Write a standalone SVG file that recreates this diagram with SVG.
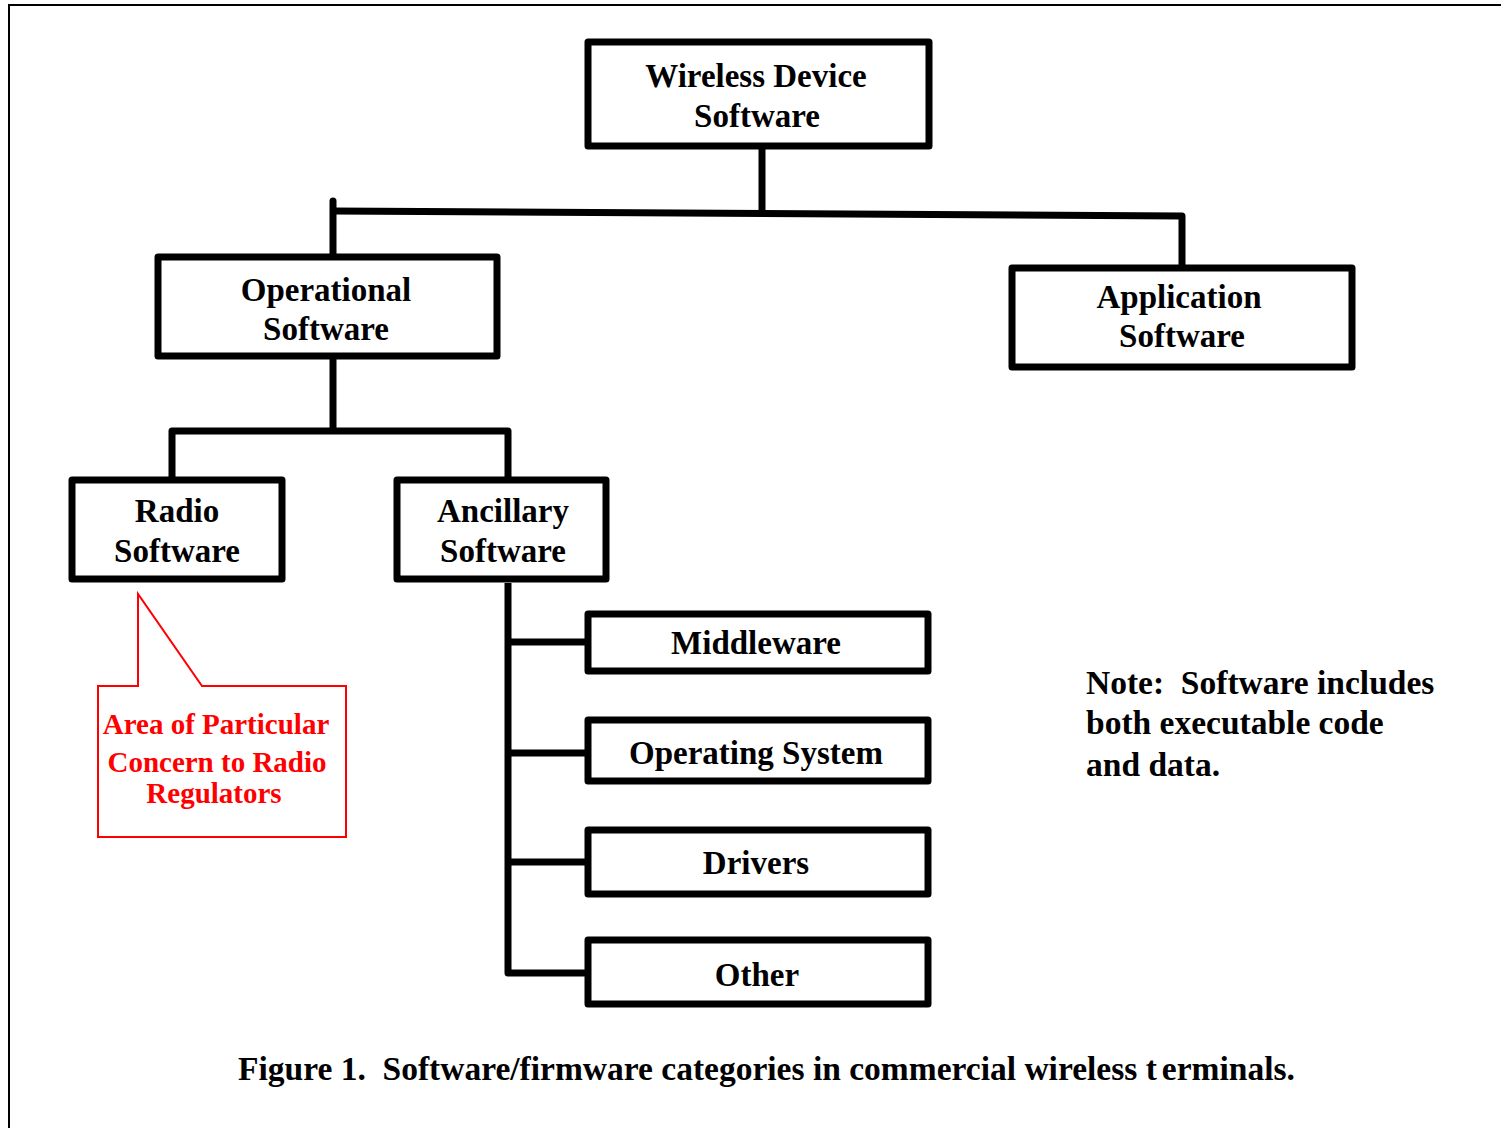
<svg xmlns="http://www.w3.org/2000/svg" width="1501" height="1128" viewBox="0 0 1501 1128">
  <style>
    .box { fill: #fff; stroke: #000; stroke-width: 7; stroke-linejoin: round; }
    .wire { fill: none; stroke: #000; stroke-width: 7; stroke-linejoin: round; }
    .label { font-family: "Liberation Serif", "Times New Roman", serif; font-weight: bold; font-size: 33px; fill: #000; text-anchor: middle; }
    .note { font-family: "Liberation Serif", "Times New Roman", serif; font-weight: bold; font-size: 33.5px; fill: #000; }
    .callout { fill: #fff; stroke: #f00; stroke-width: 2; }
    .red { font-family: "Liberation Serif", "Times New Roman", serif; font-weight: bold; font-size: 29px; fill: #f00; text-anchor: middle; }
  </style>
  <rect width="1501" height="1128" fill="#fff"/>
  <!-- page frame (top and left edges) -->
  <path d="M9 1128 V5 H1501" fill="none" stroke="#000" stroke-width="2"/>

  <g id="connectors">
    <path class="wire" d="M762 149 V213"/>
    <path class="wire" d="M333 255 V201" stroke-linecap="round"/>
    <path class="wire" d="M333 211 L1182 216 V266"/>
    <path class="wire" d="M333 358 V431"/>
    <path class="wire" d="M172 479 V431 H508 V479"/>
    <path class="wire" d="M508 583 V973 H587"/>
    <path class="wire" d="M508 642 H587"/>
    <path class="wire" d="M508 753 H587"/>
    <path class="wire" d="M508 862 H587"/>
  </g>

  <g id="wireless-device-software">
    <rect class="box" x="588" y="42" width="341" height="104"/>
    <text class="label" x="756" y="87">Wireless Device</text>
    <text class="label" x="757" y="127">Software</text>
  </g>

  <g id="operational-software">
    <rect class="box" x="158" y="257" width="339" height="99"/>
    <text class="label" x="326" y="301">Operational</text>
    <text class="label" x="326" y="340">Software</text>
  </g>

  <g id="application-software">
    <rect class="box" x="1012" y="268" width="340" height="99"/>
    <text class="label" x="1179" y="308">Application</text>
    <text class="label" x="1182" y="347">Software</text>
  </g>

  <g id="radio-software">
    <rect class="box" x="72" y="480" width="210" height="99"/>
    <text class="label" x="177" y="522">Radio</text>
    <text class="label" x="177" y="562">Software</text>
  </g>

  <g id="ancillary-software">
    <rect class="box" x="397" y="480" width="209" height="99"/>
    <text class="label" x="503" y="522">Ancillary</text>
    <text class="label" x="503" y="562">Software</text>
  </g>

  <g id="middleware">
    <rect class="box" x="588" y="614" width="340" height="57"/>
    <text class="label" x="756" y="654">Middleware</text>
  </g>

  <g id="operating-system">
    <rect class="box" x="588" y="720" width="340" height="61"/>
    <text class="label" x="756" y="764">Operating System</text>
  </g>

  <g id="drivers">
    <rect class="box" x="588" y="830" width="340" height="64"/>
    <text class="label" x="756" y="874">Drivers</text>
  </g>

  <g id="other">
    <rect class="box" x="588" y="940" width="340" height="64"/>
    <text class="label" x="757" y="986">Other</text>
  </g>

  <g id="regulator-callout">
    <path class="callout" d="M98 686 H138 V594 L202 686 H346 V837 H98 Z"/>
    <text class="red" x="216" y="734">Area of Particular</text>
    <text class="red" x="217" y="772">Concern to Radio</text>
    <text class="red" x="214" y="803">Regulators</text>
  </g>

  <g id="note">
    <text class="note" x="1086" y="694" xml:space="preserve">Note:  Software includes</text>
    <text class="note" x="1086" y="734">both executable code</text>
    <text class="note" x="1086" y="776">and data.</text>
  </g>

  <text class="note" x="238" y="1080" xml:space="preserve">Figure 1.  Software/firmware categories in commercial wireless t<tspan dx="5">erminals.</tspan></text>
</svg>
